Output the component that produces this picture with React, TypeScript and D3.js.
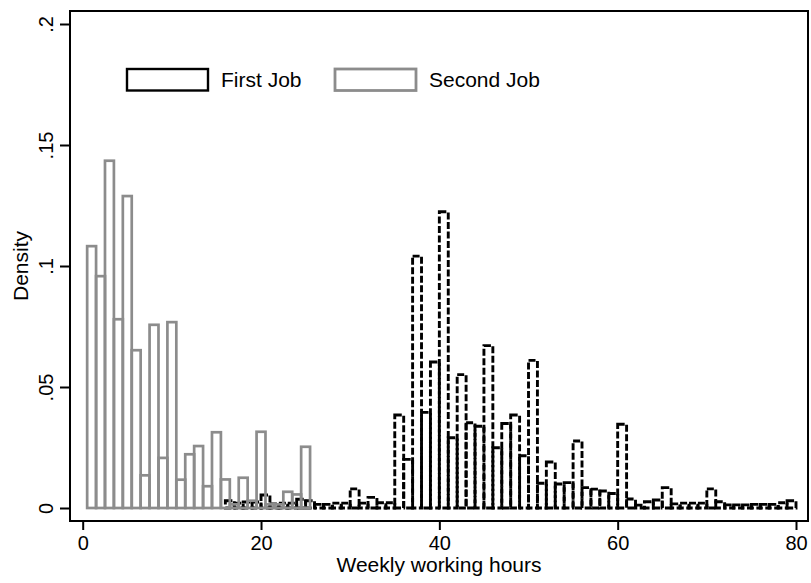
import React, { useRef, useEffect } from "react";
import { select, scaleLinear, axisBottom, axisLeft } from "d3";

// First job: bins start at the hour value, width 1
const firstJobHours = [
  16, 17, 18, 19, 20, 21, 22, 23, 24, 25, 26, 27, 28, 29, 30, 31, 32, 33, 34, 35,
  36, 37, 38, 39, 40, 41, 42, 43, 44, 45, 46, 47, 48, 49, 50, 51, 52, 53, 54, 55,
  56, 57, 58, 59, 60, 61, 62, 63, 64, 65, 66, 67, 68, 69, 70, 71, 72, 73, 74, 75,
  76, 77, 78, 79,
];
const firstJobDensity = [
  0.003, 0.002, 0.0025, 0.0025, 0.0054, 0.0017, 0.002, 0.002, 0.0036, 0.003,
  0.0015, 0.0015, 0.002, 0.002, 0.0079, 0.002, 0.0044, 0.0022, 0.0022, 0.0384,
  0.0201, 0.1041, 0.0395, 0.0603, 0.1224, 0.029, 0.0551, 0.0352, 0.0338, 0.0671,
  0.0249, 0.0349, 0.0384, 0.0216, 0.061, 0.0102, 0.019, 0.0099, 0.0105, 0.0277,
  0.0084, 0.0078, 0.007, 0.006, 0.0346, 0.0037, 0.0012, 0.0026, 0.0033, 0.0084,
  0.0017, 0.002, 0.002, 0.002, 0.0079, 0.0026, 0.0013, 0.0013, 0.0013, 0.0015,
  0.0015, 0.0015, 0.0022, 0.003,
];

// Second job: bins centred on the hour value, width 1
const secondJobHours = [
  1, 2, 3, 4, 5, 6, 7, 8, 9, 10, 11, 12, 13, 14, 15, 16, 17, 18, 19, 20, 21, 22,
  23, 24, 25,
];
const secondJobDensity = [
  0.1082, 0.0958, 0.1435, 0.078, 0.1289, 0.0652, 0.0135, 0.0757, 0.0207, 0.0768,
  0.0117, 0.0222, 0.0256, 0.009, 0.0313, 0.0118, 0.0015, 0.0125, 0.003, 0.0315,
  0.0015, 0.0015, 0.0067, 0.0056, 0.0253,
];

const xTicks = [0, 20, 40, 60, 80];
const yTicks = [0, 0.05, 0.1, 0.15, 0.2];
const legendLabels = ["First Job", "Second Job"];

const FONT = "'Liberation Sans', Arial, sans-serif";
const GREY = "#8c8c8c";

function App() {
  const svgRef = useRef<SVGSVGElement>(null);

  useEffect(() => {
    const svg = select(svgRef.current);
    svg.selectAll("*").remove();

    const frame = { left: 70, top: 11, right: 808, bottom: 521 };
    const x = scaleLinear().domain([0, 80]).range([82.7, 796]);
    const y = scaleLinear().domain([0, 0.2]).range([508, 24]);

    // plot frame
    svg
      .append("rect")
      .attr("x", frame.left)
      .attr("y", frame.top)
      .attr("width", frame.right - frame.left)
      .attr("height", frame.bottom - frame.top)
      .attr("fill", "none")
      .attr("stroke", "#000")
      .attr("stroke-width", 2);

    // first job bars (dashed black)
    svg
      .append("g")
      .selectAll("rect")
      .data(firstJobHours)
      .join("rect")
      .attr("x", (h) => x(h))
      .attr("y", (h, i) => y(firstJobDensity[i]))
      .attr("width", (h) => x(h + 1) - x(h))
      .attr("height", (h, i) => y(0) - y(firstJobDensity[i]))
      .attr("fill", "none")
      .attr("stroke", "#000")
      .attr("stroke-width", 2.9)
      .attr("stroke-dasharray", "7,2.5");

    // second job bars (grey)
    svg
      .append("g")
      .selectAll("rect")
      .data(secondJobHours)
      .join("rect")
      .attr("x", (h) => x(h - 0.5))
      .attr("y", (h, i) => y(secondJobDensity[i]))
      .attr("width", (h) => x(h + 0.5) - x(h - 0.5))
      .attr("height", (h, i) => y(0) - y(secondJobDensity[i]))
      .attr("fill", "none")
      .attr("stroke", GREY)
      .attr("stroke-width", 2.7);

    // x axis
    const xAxis = axisBottom(x).tickValues(xTicks).tickSize(9).tickSizeOuter(0);
    const gx = svg
      .append("g")
      .attr("transform", `translate(0,${frame.bottom})`)
      .call(xAxis);
    gx.select(".domain").remove();
    gx.selectAll("line").attr("stroke", "#000").attr("stroke-width", 2);
    gx.selectAll("text")
      .attr("y", 28.5)
      .attr("dy", null)
      .attr("fill", "#000")
      .style("font-family", FONT)
      .style("font-size", "20px");

    // y axis
    const fmt = (d: number) => (d === 0 ? "0" : String(d).replace(/^0/, ""));
    const yAxis = axisLeft(y)
      .tickValues(yTicks)
      .tickSize(10)
      .tickSizeOuter(0)
      .tickFormat((d) => fmt(+d));
    const gy = svg
      .append("g")
      .attr("transform", `translate(${frame.left},0)`)
      .call(yAxis);
    gy.select(".domain").remove();
    gy.selectAll("line").attr("stroke", "#000").attr("stroke-width", 2);
    gy.selectAll("text")
      .attr("x", null)
      .attr("dy", null)
      .attr("transform", "translate(-17,0) rotate(-90)")
      .attr("text-anchor", "middle")
      .attr("fill", "#000")
      .style("font-family", FONT)
      .style("font-size", "20px");

    // axis titles
    svg
      .append("text")
      .attr("x", (frame.left + frame.right) / 2)
      .attr("y", 571.5)
      .attr("text-anchor", "middle")
      .style("font-family", FONT)
      .style("font-size", "21px")
      .text("Weekly working hours");

    svg
      .append("text")
      .attr("transform", `translate(28,${(frame.top + frame.bottom) / 2}) rotate(-90)`)
      .attr("text-anchor", "middle")
      .style("font-family", FONT)
      .style("font-size", "21px")
      .text("Density");

    // legend
    const legendX = [127, 335];
    const legendStroke = ["#000", GREY];
    const legend = svg
      .append("g")
      .selectAll("g")
      .data(legendLabels)
      .join("g")
      .attr("transform", (d, i) => `translate(${legendX[i]},69)`);
    legend
      .append("rect")
      .attr("width", 81)
      .attr("height", 21.5)
      .attr("fill", "none")
      .attr("stroke", (d, i) => legendStroke[i])
      .attr("stroke-width", (d, i) => (i === 0 ? 2.4 : 2.8));
    legend
      .append("text")
      .attr("x", 94)
      .attr("y", 18.3)
      .style("font-family", FONT)
      .style("font-size", "21px")
      .text((d) => d);
  }, []);

  return (
    <svg
      ref={svgRef}
      width={811}
      height={583}
      style={{ position: "absolute", left: 0, top: 0, background: "#fff" }}
    />
  );
}

export default App;
